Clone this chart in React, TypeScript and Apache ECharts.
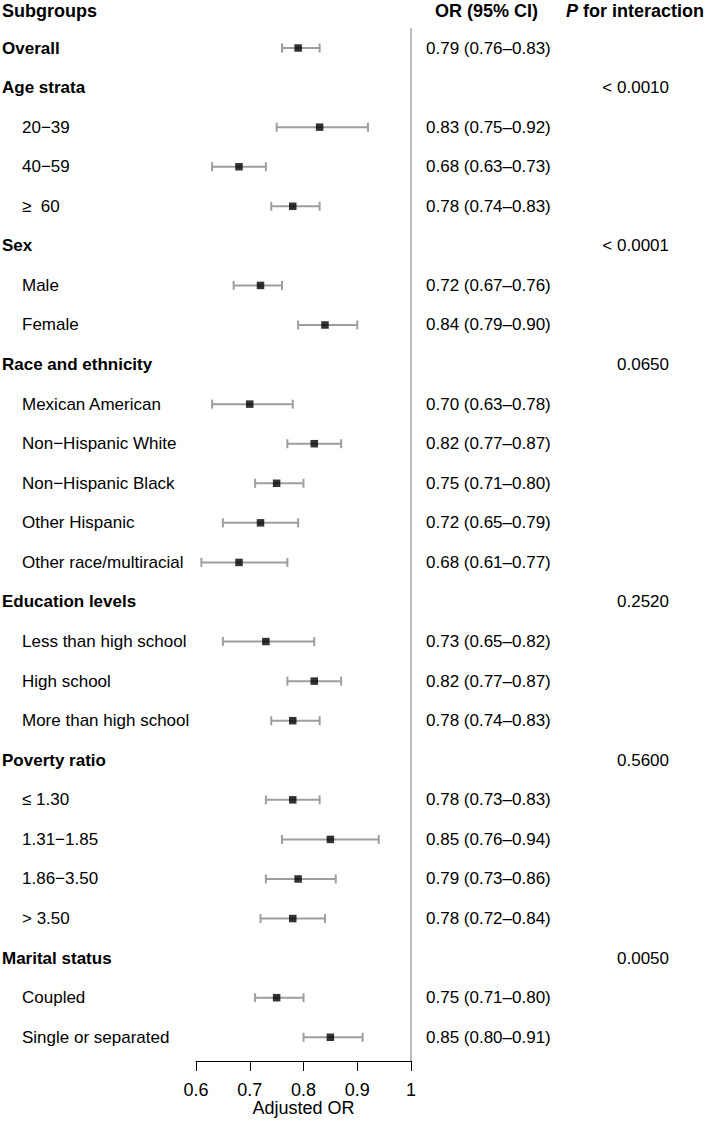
import React, { useEffect, useRef } from "react";
import * as echarts from "echarts";

const subgroups = [
  "Overall", "Age strata", "20\u221239", "40\u221259", "\u2265  60",
  "Sex", "Male", "Female",
  "Race and ethnicity", "Mexican American", "Non\u2212Hispanic White", "Non\u2212Hispanic Black", "Other Hispanic", "Other race/multiracial",
  "Education levels", "Less than high school", "High school", "More than high school",
  "Poverty ratio", "\u2264 1.30", "1.31\u22121.85", "1.86\u22123.50", "> 3.50",
  "Marital status", "Coupled", "Single or separated",
];
const isHeading = [
  true, true, false, false, false,
  true, false, false,
  true, false, false, false, false, false,
  true, false, false, false,
  true, false, false, false, false,
  true, false, false,
];
const orValues = [
  0.79, null, 0.83, 0.68, 0.78,
  null, 0.72, 0.84,
  null, 0.70, 0.82, 0.75, 0.72, 0.68,
  null, 0.73, 0.82, 0.78,
  null, 0.78, 0.85, 0.79, 0.78,
  null, 0.75, 0.85,
];
const ciLower = [
  0.76, null, 0.75, 0.63, 0.74,
  null, 0.67, 0.79,
  null, 0.63, 0.77, 0.71, 0.65, 0.61,
  null, 0.65, 0.77, 0.74,
  null, 0.73, 0.76, 0.73, 0.72,
  null, 0.71, 0.80,
];
const ciUpper = [
  0.83, null, 0.92, 0.73, 0.83,
  null, 0.76, 0.90,
  null, 0.78, 0.87, 0.80, 0.79, 0.77,
  null, 0.82, 0.87, 0.83,
  null, 0.83, 0.94, 0.86, 0.84,
  null, 0.80, 0.91,
];
const pInteraction = [
  "", "< 0.0010", "", "", "",
  "< 0.0001", "", "",
  "0.0650", "", "", "", "", "",
  "0.2520", "", "", "",
  "0.5600", "", "", "", "",
  "0.0050", "", "",
];
const xTicks = [0.6, 0.7, 0.8, 0.9, 1.0];
const refLine = [[1, -0.5], [1, 25.6]];

const FONT = "'Liberation Sans', Arial, Helvetica, sans-serif";
const fmt2 = (v: number) => v.toFixed(2);

export default function App() {
  const ref = useRef<HTMLDivElement>(null);
  useEffect(() => {
    document.body.style.margin = "0";
    const chart = echarts.init(ref.current!, null, { renderer: "svg" });

    const ciData: number[][] = [];
    const pointData: number[][] = [];
    orValues.forEach((v, i) => {
      if (v != null) {
        ciData.push([i, ciLower[i] as number, ciUpper[i] as number]);
        pointData.push([v, i]);
      }
    });
    const labelData = subgroups.map((_, i) => [i]);

    chart.setOption({
      animation: false,
      backgroundColor: "#fff",
      grid: { left: 196, right: 298, top: 8.44, bottom: 64, containLabel: false, outerBoundsMode: "none" },
      xAxis: {
        type: "value",
        position: "bottom",
        min: 0.6,
        max: 1,
        interval: 0.1,
        name: "Adjusted OR",
        nameLocation: "middle",
        nameGap: 38,
        nameMoveOverlap: false,
        nameTextStyle: { color: "#000", fontSize: 18, fontFamily: FONT },
        axisLine: { show: true, onZero: false, lineStyle: { color: "#000", width: 1 } },
        axisTick: { show: true, length: 10, inside: false, lineStyle: { color: "#000", width: 1 } },
        axisLabel: {
          margin: 20,
          color: "#000",
          fontSize: 18,
          fontFamily: FONT,
          formatter: (v: number) => {
            const t = xTicks.find((x) => Math.abs(x - v) < 1e-6);
            if (t === undefined) return "";
            return t === 1 ? "1" : t.toFixed(1);
          },
        },
        splitLine: { show: false },
      },
      yAxis: {
        type: "value",
        inverse: true,
        min: -1,
        max: 25.6,
        show: false,
      },
      graphic: [
        {
          type: "text",
          left: 2,
          top: 2,
          style: { text: "Subgroups", font: `bold 18px ${FONT}`, fill: "#000" },
        },
        {
          type: "text",
          left: 435,
          top: 2,
          style: { text: "OR (95% CI)", font: `bold 18px ${FONT}`, fill: "#000" },
        },
        {
          type: "text",
          left: 566,
          top: 2,
          style: {
            text: "{i|P} for interaction",
            font: `bold 18px ${FONT}`,
            fill: "#000",
            rich: {
              i: { fontStyle: "italic", fontWeight: "bold", fontSize: 18, fontFamily: FONT, fill: "#000" },
            },
          },
        },
      ],
      series: [
        {
          type: "line",
          data: refLine,
          symbol: "none",
          lineStyle: { color: "#a6a6a6", width: 1.5 },
          silent: true,
          z: 1,
        },
        {
          type: "custom",
          clip: false,
          data: ciData,
          encode: { x: [1, 2], y: 0 },
          renderItem: (params: any, api: any) => {
            const row = api.value(0);
            const lo = api.coord([api.value(1), row]);
            const hi = api.coord([api.value(2), row]);
            const st = { stroke: "#9e9e9e", lineWidth: 2 };
            return {
              type: "group",
              children: [
                { type: "line", shape: { x1: lo[0], y1: lo[1], x2: hi[0], y2: hi[1] }, style: st },
                { type: "line", shape: { x1: lo[0], y1: lo[1] - 4.5, x2: lo[0], y2: lo[1] + 4.5 }, style: st },
                { type: "line", shape: { x1: hi[0], y1: hi[1] - 4.5, x2: hi[0], y2: hi[1] + 4.5 }, style: st },
              ],
            };
          },
          z: 2,
        },
        {
          type: "scatter",
          data: pointData,
          symbol: "rect",
          symbolSize: 7.5,
          itemStyle: { color: "#000" },
          z: 3,
        },
        {
          type: "custom",
          clip: false,
          data: labelData,
          encode: { y: 0 },
          renderItem: (params: any, api: any) => {
            const i = params.dataIndex;
            const y = api.coord([0.6, api.value(0)])[1];
            const heading = isHeading[i];
            const children: any[] = [
              {
                type: "text",
                x: heading ? 2 : 22,
                y,
                style: {
                  text: subgroups[i],
                  font: `${heading ? "bold " : ""}17px ${FONT}`,
                  fill: "#000",
                  verticalAlign: "middle",
                  align: "left",
                },
              },
            ];
            const v = orValues[i];
            if (v != null) {
              children.push({
                type: "text",
                x: 426,
                y,
                style: {
                  text: `${fmt2(v)} (${fmt2(ciLower[i] as number)}\u2013${fmt2(ciUpper[i] as number)})`,
                  font: `17px ${FONT}`,
                  fill: "#000",
                  verticalAlign: "middle",
                  align: "left",
                },
              });
            }
            if (pInteraction[i]) {
              children.push({
                type: "text",
                x: 669,
                y,
                style: {
                  text: pInteraction[i],
                  font: `17px ${FONT}`,
                  fill: "#000",
                  verticalAlign: "middle",
                  align: "right",
                },
              });
            }
            return { type: "group", children };
          },
          z: 4,
        },
      ],
    });
    return () => chart.dispose();
  }, []);
  return <div ref={ref} style={{ width: 709, height: 1125 }} />;
}
